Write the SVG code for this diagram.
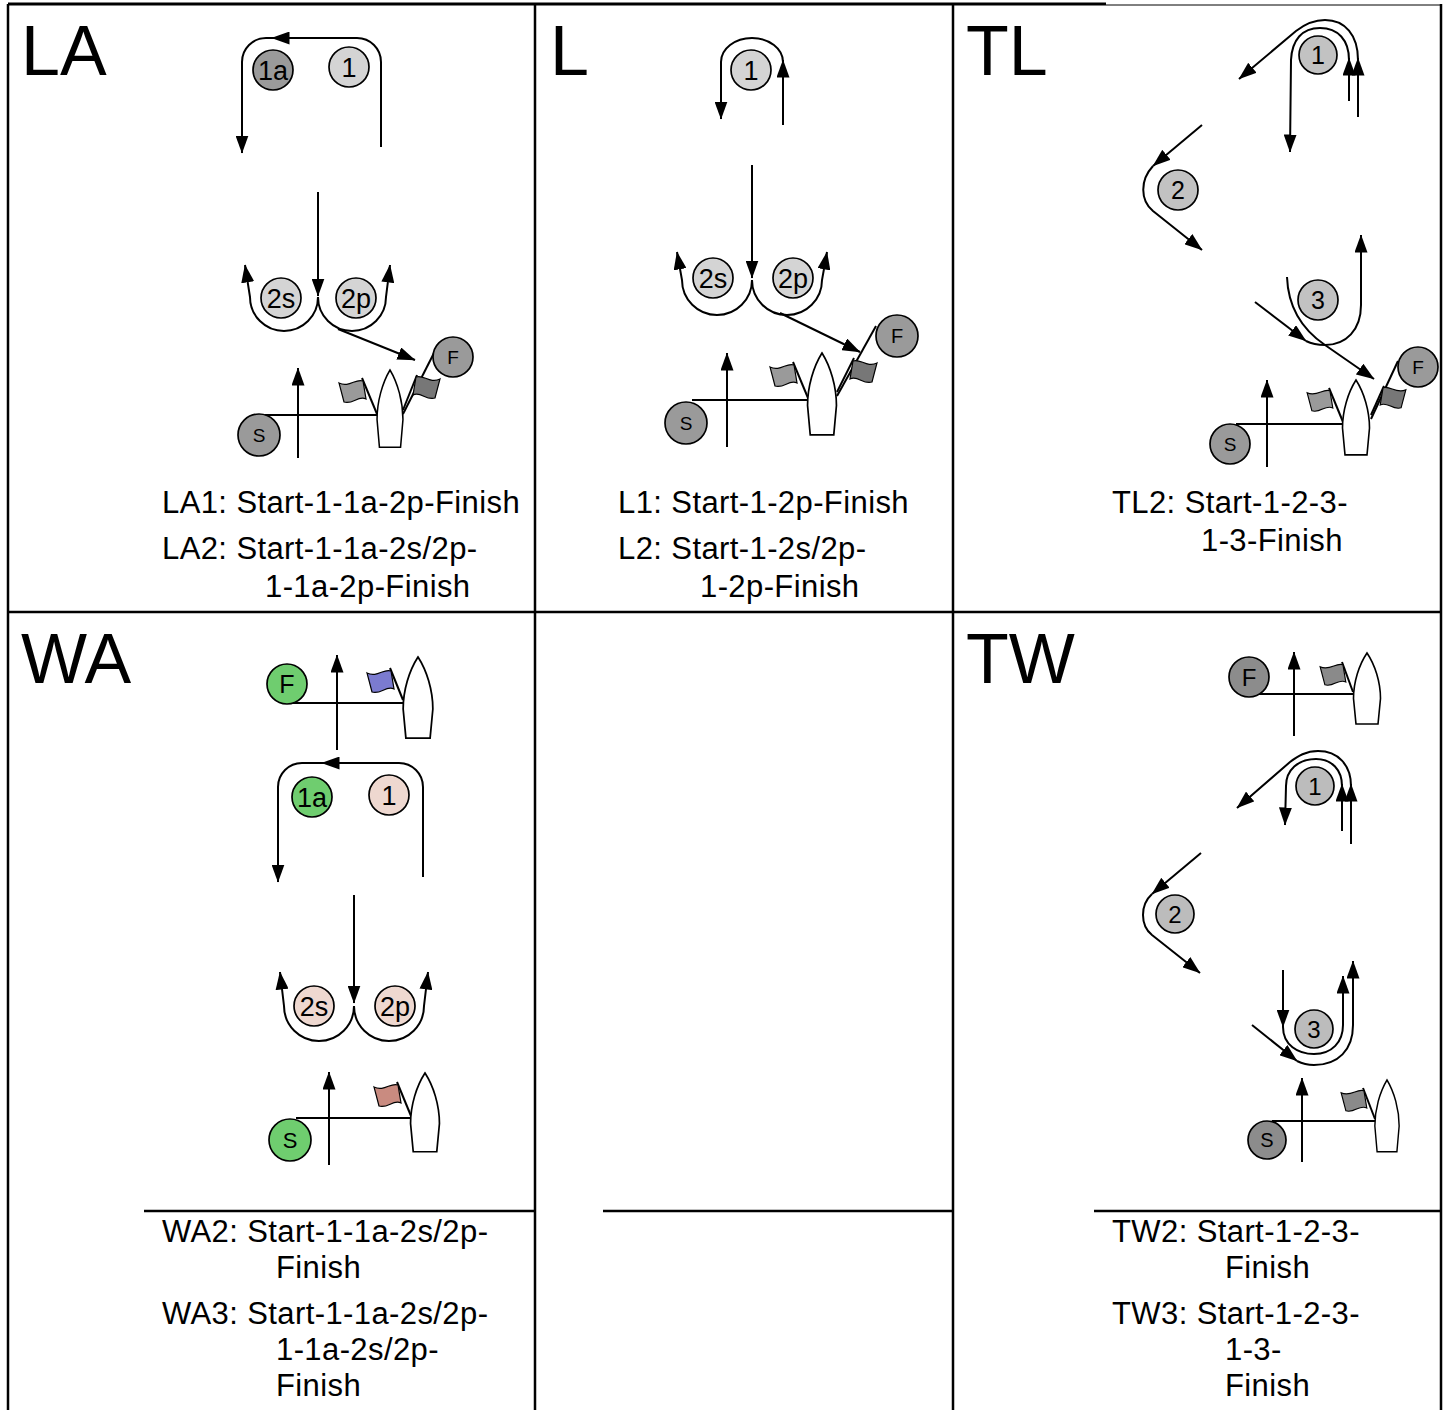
<svg xmlns="http://www.w3.org/2000/svg" width="1448" height="1410" viewBox="0 0 1448 1410">
<defs>
<marker id="ah" viewBox="0 0 18 13" refX="17.5" refY="6.5" markerWidth="18" markerHeight="13" markerUnits="userSpaceOnUse" orient="auto"><path d="M0,0 L18,6.5 L0,13 z" fill="#000"/></marker>
<path id="hull" d="M0,0 C-8,13 -13.5,32 -13.5,50 L-11,78 H11 L13.5,50 C13.5,32 8,13 0,0 Z"/>
<path id="flag" d="M1,3 C-6,0 -13,10 -23,5 L-18,24 C-9,27 -4,17 4,21 Z"/>
</defs>
<style>
.grid{stroke:#000;stroke-width:2.5;fill:none}
.c{stroke:#000;stroke-width:2;fill:none}
.a{marker-end:url(#ah)}
.n{stroke:#000;stroke-width:1.7}
.dk{fill:#9a9a9a}
.lt{fill:#d4d4d4}
.md{fill:#c2c2c2}
.tw{fill:#bcbcbc}
.twd{fill:#8c8c8c}
.gr{fill:#6fcd6f}
.pk{fill:#eed8d0}
.hull{fill:#fff;stroke:#000;stroke-width:1.6}
.fl{stroke:#000;stroke-width:1.2}
text{font-family:"Liberation Sans",Arial,sans-serif;fill:#000}
.big{font-size:70px}
.lbl{font-size:31px;letter-spacing:0.4px}
.t{text-anchor:middle}
</style>
<rect width="1448" height="1410" fill="#fff"/>
<g id="table">
<line class="grid" x1="8" y1="4" x2="1106" y2="4" style="stroke-width:3"/>
<line x1="1106" y1="5" x2="1441" y2="5" stroke="#000" stroke-width="1"/>
<line class="grid" x1="8" y1="4" x2="8" y2="1410"/>
<line class="grid" x1="535" y1="4" x2="535" y2="1410"/>
<line class="grid" x1="953" y1="4" x2="953" y2="1410"/>
<line class="grid" x1="1441" y1="4" x2="1441" y2="1410"/>
<line class="grid" x1="8" y1="612" x2="1441" y2="612"/>
<line class="grid" x1="144" y1="1211" x2="535" y2="1211"/>
<line class="grid" x1="603" y1="1211" x2="953" y2="1211"/>
<line class="grid" x1="1094" y1="1211" x2="1441" y2="1211"/>
</g>
<g id="titles">
<text class="big" x="21" y="75">LA</text>
<text class="big" x="550" y="75">L</text>
<text class="big" x="966" y="75">TL</text>
<text class="big" x="21" y="683">WA</text>
<text class="big" x="966" y="683">TW</text>
</g>
<g id="captions">
<text class="lbl" x="162" y="513">LA1: Start-1-1a-2p-Finish</text>
<text class="lbl" x="162" y="559">LA2: Start-1-1a-2s/2p-</text>
<text class="lbl" x="265" y="597">1-1a-2p-Finish</text>
<text class="lbl" x="618" y="513">L1: Start-1-2p-Finish</text>
<text class="lbl" x="618" y="559">L2: Start-1-2s/2p-</text>
<text class="lbl" x="700" y="597">1-2p-Finish</text>
<text class="lbl" x="1112" y="513">TL2: Start-1-2-3-</text>
<text class="lbl" x="1201" y="551">1-3-Finish</text>
<text class="lbl" x="162" y="1242">WA2: Start-1-1a-2s/2p-</text>
<text class="lbl" x="276" y="1278">Finish</text>
<text class="lbl" x="162" y="1324">WA3: Start-1-1a-2s/2p-</text>
<text class="lbl" x="276" y="1360">1-1a-2s/2p-</text>
<text class="lbl" x="276" y="1396">Finish</text>
<text class="lbl" x="1112" y="1242">TW2: Start-1-2-3-</text>
<text class="lbl" x="1225" y="1278">Finish</text>
<text class="lbl" x="1112" y="1324">TW3: Start-1-2-3-</text>
<text class="lbl" x="1225" y="1360">1-3-</text>
<text class="lbl" x="1225" y="1396">Finish</text>
</g>
<g id="connectors">
<!-- LA -->
<path class="c a" d="M381,147 V62 A24,24 0 0 0 357,38 H272"/>
<path class="c a" d="M272,38 H266 A24,24 0 0 0 242,62 V153"/>
<path class="c a" d="M318,192 V296"/>
<path class="c a" d="M318,297 A34,34 0 0 1 250,297 L245,265"/>
<path class="c a" d="M318,297 A34,34 0 0 0 386,297 L390,265"/>
<path class="c a" d="M338,329 L415,360"/>
<path class="c a" d="M298,458 V368"/>
<path class="c" d="M265,415 H377"/>
<path class="c" d="M377,414 L362,378"/>
<path class="c" d="M403,414 L434,353"/>
<path class="c" d="M403,410 L417,375"/>
<!-- L -->
<path class="c a" d="M783,125 V60"/>
<path class="c a" d="M783,62 A31,24 0 0 0 721,62 V119"/>
<path class="c a" d="M752,165 V278"/>
<path class="c a" d="M752,280 A35,35 0 0 1 682,280 L677,252"/>
<path class="c a" d="M752,280 A35,35 0 0 0 822,280 L827,252"/>
<path class="c a" d="M780,313 L860,352"/>
<path class="c a" d="M727,447 V353"/>
<path class="c" d="M692,400 H808"/>
<path class="c" d="M808,398 L793,362"/>
<path class="c" d="M837,396 L876,326"/>
<path class="c" d="M837,392 L854,358"/>
<!-- TL -->
<path class="c a" d="M1358,117 V58"/>
<path class="c a" d="M1358,60 C1358,35 1345,20 1325,20 C1313,20 1305,24 1296,31 L1239,79"/>
<path class="c a" d="M1349,101 V58"/>
<path class="c a" d="M1349,60 C1349,40 1338,28 1320,28 C1302,28 1292,40 1291,60 L1290,152"/>
<path class="c a" d="M1202,125 L1153,166"/>
<path class="c a" d="M1153,166 C1140,180 1140,200 1153,211 L1202,250"/>
<path class="c a" d="M1255,302 L1306,341"/>
<path class="c a" d="M1306,341 C1312,344 1318,345 1325,345 C1346,345 1361,330 1361,305 V235"/>
<path class="c a" d="M1287,277 C1288,305 1300,328 1325,345 L1374,379"/>
<path class="c a" d="M1267,467 V380"/>
<path class="c" d="M1236,424 H1343"/>
<path class="c" d="M1343,422 L1329,388"/>
<path class="c" d="M1371,419 L1398,361"/>
<path class="c" d="M1371,415 L1384,386"/>
<!-- WA -->
<path class="c" d="M293,703 H403"/>
<path class="c a" d="M337,750 V655"/>
<path class="c" d="M403,700 L390,668"/>
<path class="c a" d="M423,877 V787 A24,24 0 0 0 399,763 H322"/>
<path class="c a" d="M322,763 H302 A24,24 0 0 0 278,787 V882"/>
<path class="c a" d="M354,895 V1003"/>
<path class="c a" d="M354,1006 A35,35 0 0 1 284,1006 L280,972"/>
<path class="c a" d="M354,1006 A35,35 0 0 0 424,1006 L428,972"/>
<path class="c" d="M296,1118 H411"/>
<path class="c a" d="M329,1165 V1072"/>
<path class="c" d="M411,1116 L397,1082"/>
<!-- TW -->
<path class="c" d="M1250,694 H1353"/>
<path class="c a" d="M1294,736 V652"/>
<path class="c" d="M1353,692 L1342,662"/>
<path class="c a" d="M1351,844 V784"/>
<path class="c a" d="M1351,786 C1351,765 1338,751 1318,751 C1306,751 1298,756 1290,762 L1237,808"/>
<path class="c a" d="M1342,831 V784"/>
<path class="c a" d="M1342,786 C1342,770 1332,759 1316,759 C1298,759 1286,770 1286,786 L1285,825"/>
<path class="c a" d="M1201,853 L1152,894"/>
<path class="c a" d="M1152,894 C1140,905 1140,925 1152,935 L1200,973"/>
<path class="c a" d="M1283,970 V1027"/>
<path class="c a" d="M1283,1027 C1283,1045 1298,1054 1314,1054 C1332,1054 1343,1042 1343,1025 V976"/>
<path class="c a" d="M1252,1025 L1297,1061"/>
<path class="c a" d="M1297,1061 C1303,1064 1308,1065 1314,1065 C1338,1065 1353,1050 1353,1025 V961"/>
<path class="c" d="M1272,1121 H1375"/>
<path class="c a" d="M1302,1162 V1078"/>
<path class="c" d="M1375,1119 L1363,1088"/>
</g>
<g id="boats">
<use href="#hull" class="hull" transform="translate(390,370) scale(0.96,0.99)"/>
<use href="#hull" class="hull" transform="translate(822,353) scale(1.07,1.05)"/>
<use href="#hull" class="hull" transform="translate(1356,380) scale(1,0.96)"/>
<use href="#hull" class="hull" transform="translate(418,657) scale(1.1,1.04)"/>
<use href="#hull" class="hull" transform="translate(425,1073) scale(1.07,1.01)"/>
<use href="#hull" class="hull" transform="translate(1367,653) scale(1,0.91)"/>
<use href="#hull" class="hull" transform="translate(1387,1080) scale(0.9,0.92)"/>
</g>
<g id="flags">
<use href="#flag" class="fl" fill="#9a9a9a" transform="translate(362,378)"/>
<use href="#flag" class="fl" fill="#777" transform="translate(417,374) scale(-1,1)"/>
<use href="#flag" class="fl" fill="#9a9a9a" transform="translate(793,362)"/>
<use href="#flag" class="fl" fill="#777" transform="translate(854,358) scale(-1,1)"/>
<use href="#flag" class="fl" fill="#9a9a9a" transform="translate(1329,388) scale(0.95)"/>
<use href="#flag" class="fl" fill="#777" transform="translate(1384,385) scale(-0.95,0.95)"/>
<use href="#flag" class="fl" fill="#7b7bd0" transform="translate(390,668)"/>
<use href="#flag" class="fl" fill="#c98b80" transform="translate(397,1082)"/>
<use href="#flag" class="fl" fill="#8a8a8a" transform="translate(1342,662) scale(0.95)"/>
<use href="#flag" class="fl" fill="#8a8a8a" transform="translate(1363,1088) scale(0.95)"/>
</g>
<!-- LA nodes -->
<g id="la-1a"><circle class="n dk" cx="273" cy="70" r="20"/><text class="t" x="273" y="80" font-size="27">1a</text></g>
<g id="la-1"><circle class="n lt" cx="349" cy="67" r="20"/><text class="t" x="349" y="77" font-size="27">1</text></g>
<g id="la-2s"><circle class="n lt" cx="281" cy="298" r="20"/><text class="t" x="281" y="308" font-size="27">2s</text></g>
<g id="la-2p"><circle class="n lt" cx="356" cy="298" r="20"/><text class="t" x="356" y="308" font-size="27">2p</text></g>
<g id="la-F"><circle class="n dk" cx="453" cy="357" r="20"/><text class="t" x="453" y="364" font-size="19">F</text></g>
<g id="la-S"><circle class="n dk" cx="259" cy="435" r="21"/><text class="t" x="259" y="442" font-size="19">S</text></g>
<!-- L nodes -->
<g id="l-1"><circle class="n lt" cx="751" cy="70" r="20"/><text class="t" x="751" y="80" font-size="27">1</text></g>
<g id="l-2s"><circle class="n lt" cx="713" cy="278" r="20"/><text class="t" x="713" y="288" font-size="27">2s</text></g>
<g id="l-2p"><circle class="n lt" cx="793" cy="278" r="20"/><text class="t" x="793" y="288" font-size="27">2p</text></g>
<g id="l-F"><circle class="n dk" cx="897" cy="336" r="21"/><text class="t" x="897" y="343" font-size="20">F</text></g>
<g id="l-S"><circle class="n dk" cx="686" cy="423" r="21"/><text class="t" x="686" y="430" font-size="19">S</text></g>
<!-- TL nodes -->
<g id="tl-1"><circle class="n md" cx="1318" cy="55" r="19"/><text class="t" x="1318" y="64" font-size="25">1</text></g>
<g id="tl-2"><circle class="n md" cx="1178" cy="190" r="20"/><text class="t" x="1178" y="199" font-size="25">2</text></g>
<g id="tl-3"><circle class="n md" cx="1318" cy="300" r="20"/><text class="t" x="1318" y="309" font-size="25">3</text></g>
<g id="tl-F"><circle class="n dk" cx="1418" cy="367" r="20"/><text class="t" x="1418" y="374" font-size="19">F</text></g>
<g id="tl-S"><circle class="n dk" cx="1230" cy="444" r="20"/><text class="t" x="1230" y="451" font-size="19">S</text></g>
<!-- WA nodes -->
<g id="wa-F"><circle class="n gr" cx="287" cy="684" r="20"/><text class="t" x="287" y="693" font-size="25">F</text></g>
<g id="wa-1a"><circle class="n gr" cx="312" cy="797" r="20"/><text class="t" x="312" y="807" font-size="27">1a</text></g>
<g id="wa-1"><circle class="n pk" cx="389" cy="795" r="20"/><text class="t" x="389" y="805" font-size="27">1</text></g>
<g id="wa-2s"><circle class="n pk" cx="314" cy="1006" r="20"/><text class="t" x="314" y="1016" font-size="27">2s</text></g>
<g id="wa-2p"><circle class="n pk" cx="395" cy="1006" r="20"/><text class="t" x="395" y="1016" font-size="27">2p</text></g>
<g id="wa-S"><circle class="n gr" cx="290" cy="1140" r="21"/><text class="t" x="290" y="1148" font-size="22">S</text></g>
<!-- TW nodes -->
<g id="tw-F"><circle class="n twd" cx="1249" cy="677" r="20"/><text class="t" x="1249" y="686" font-size="24">F</text></g>
<g id="tw-1"><circle class="n tw" cx="1315" cy="786" r="19"/><text class="t" x="1315" y="795" font-size="24">1</text></g>
<g id="tw-2"><circle class="n tw" cx="1175" cy="914" r="19"/><text class="t" x="1175" y="923" font-size="24">2</text></g>
<g id="tw-3"><circle class="n tw" cx="1314" cy="1029" r="19"/><text class="t" x="1314" y="1038" font-size="24">3</text></g>
<g id="tw-S"><circle class="n twd" cx="1267" cy="1140" r="19"/><text class="t" x="1267" y="1147" font-size="20">S</text></g>
</svg>
